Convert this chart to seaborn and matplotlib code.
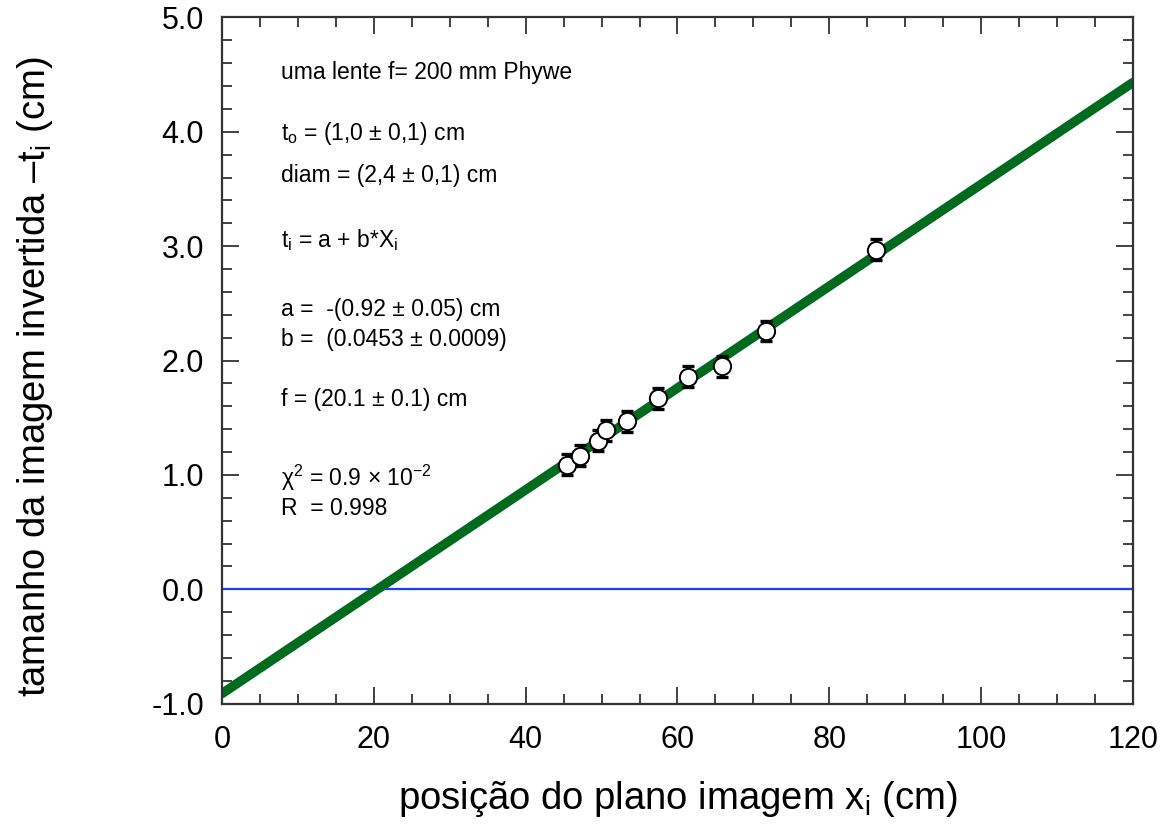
import numpy as np
import pandas as pd
import matplotlib
matplotlib.use("Agg")
import matplotlib.pyplot as plt
import seaborn as sns
from matplotlib.ticker import MultipleLocator, FormatStrFormatter

# dados medidos (posicao do plano imagem, tamanho da imagem)
x_i = [45.5, 47.2, 49.5, 50.6, 53.4, 57.4, 61.4, 65.9, 71.7, 86.1]
t_i = [1.09, 1.17, 1.30, 1.39, 1.47, 1.67, 1.86, 1.95, 2.26, 2.97]
t_err = [0.09, 0.09, 0.09, 0.09, 0.09, 0.09, 0.09, 0.09, 0.09, 0.09]

# reta ajustada como aparece no grafico
a_line = -0.91
b_line = 0.0445
x_fit = [0, 120]

df = pd.DataFrame({"x": x_i, "t": t_i, "err": t_err})
df_fit = pd.DataFrame({"x": x_fit, "t": [a_line + b_line * v for v in x_fit]})

sns.set_style("ticks")
plt.rcParams["font.family"] = ["Liberation Sans", "DejaVu Sans"]
plt.rcParams["mathtext.fontset"] = "custom"
plt.rcParams["mathtext.rm"] = "Liberation Sans"
plt.rcParams["mathtext.it"] = "Liberation Sans"
plt.rcParams["text.color"] = "black"
plt.rcParams["axes.labelcolor"] = "black"
plt.rcParams["xtick.labelcolor"] = "black"
plt.rcParams["ytick.labelcolor"] = "black"

fig = plt.figure(figsize=(11.63, 8.27), dpi=100)
ax = fig.add_axes([0.191, 0.149, 0.783, 0.830])

# linha y = 0
ax.axhline(0, color="#1a3cff", lw=1.6, zorder=1)

# reta ajustada
sns.lineplot(data=df_fit, x="x", y="t", ax=ax, color="#006b1f", lw=6.8, zorder=2)

# pontos com barras de erro
ax.errorbar(df["x"], df["t"], yerr=df["err"], fmt="none", ecolor="black",
            elinewidth=1.3, capsize=4.5, capthick=2.4, zorder=3)
sns.scatterplot(data=df, x="x", y="t", ax=ax, s=155, facecolor="white",
                edgecolor="black", linewidth=1.4, zorder=4)

ax.set_xlim(0, 120)
ax.set_ylim(-1.0, 5.0)
ax.xaxis.set_major_locator(MultipleLocator(20))
ax.xaxis.set_minor_locator(MultipleLocator(5))
ax.yaxis.set_major_locator(MultipleLocator(1.0))
ax.yaxis.set_minor_locator(MultipleLocator(0.2))
ax.yaxis.set_major_formatter(FormatStrFormatter("%.1f"))

ax.tick_params(which="both", direction="in", top=True, right=True, width=1.3,
               color="#333333")
ax.tick_params(which="major", length=12, labelsize=22)
ax.tick_params(which="minor", length=7)
ax.tick_params(axis="x", which="major", pad=15)
ax.tick_params(axis="y", which="major", pad=13)
for s in ax.spines.values():
    s.set_linewidth(1.6)
    s.set_color("#333333")

ax.set_xlabel(r"posição do plano imagem x$_\mathregular{i}$ (cm)", fontsize=27.5)
ax.set_ylabel(r"tamanho da imagem invertida –t$_\mathregular{i}$ (cm)", fontsize=27.5)
ax.xaxis.set_label_coords(0.5, -0.11)
ax.yaxis.set_label_coords(-0.184, 0.476)

txt = [
    (0.920, "uma lente f= 200 mm Phywe"),
    (0.831, r"t$_\mathregular{o}$ = (1,0 ± 0,1) cm"),
    (0.769, "diam = (2,4 ± 0,1) cm"),
    (0.675, r"t$_\mathregular{i}$ = a + b*X$_\mathregular{i}$"),
    (0.574, "a =  -(0.92 ± 0.05) cm"),
    (0.530, "b =  (0.0453 ± 0.0009)"),
    (0.443, "f = (20.1 ± 0.1) cm"),
    (0.329, r"$\mathregular{\chi^2}$ = 0.9 × 10$^\mathregular{-2}$"),
    (0.285, "R  = 0.998"),
]
for yy, s in txt:
    ax.text(0.065, yy, s, transform=ax.transAxes, fontsize=16.5, va="center", ha="left")

fig.savefig("out.png", dpi=100)
